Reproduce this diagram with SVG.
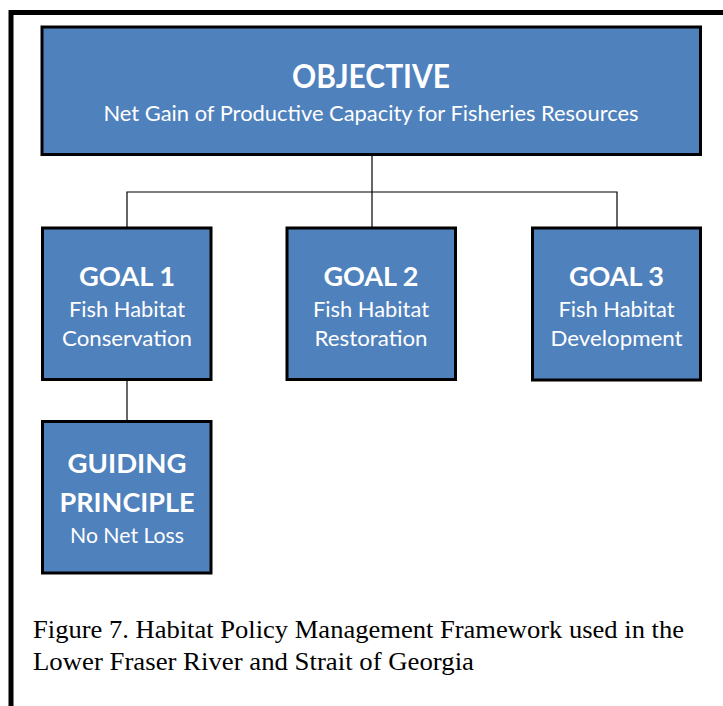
<svg xmlns="http://www.w3.org/2000/svg" width="723" height="706" viewBox="0 0 723 706">
  <style>
    .box { fill: #4F81BD; stroke: #000000; stroke-width: 3; }
    .link { fill: none; stroke: #000000; stroke-width: 1.2; }
    .frame { fill: none; stroke: #000000; stroke-width: 5; }
    .head { font-family: Lato, "Open Sans", sans-serif; font-weight: bold; fill: #FFFFFF; text-anchor: middle; }
    .sub { font-family: Lato, "Open Sans", sans-serif; fill: #FFFFFF; text-anchor: middle; }
    .caption { font-family: "Liberation Serif", "Times New Roman", serif; font-size: 25px; fill: #000000; }
  </style>
  <rect width="723" height="706" fill="#FFFFFF"/>

  <!-- page frame: top and left rules -->
  <path class="frame" d="M11,706 V12.5 H723"/>

  <!-- connectors -->
  <g id="connectors">
    <path class="link" d="M372,156 V192"/>
    <path class="link" d="M127,228 V192 H617 V228"/>
    <path class="link" d="M372,192 V228"/>
    <path class="link" d="M127,380 V421.5"/>
  </g>

  <g id="objective">
    <rect class="box" x="42" y="27" width="658.5" height="127.5"/>
    <text class="head" x="371" y="88" font-size="32" textLength="158" lengthAdjust="spacingAndGlyphs">OBJECTIVE</text>
    <text class="sub" x="371" y="121" font-size="21.5" textLength="535" lengthAdjust="spacingAndGlyphs">Net Gain of Productive Capacity for Fisheries Resources</text>
  </g>

  <g id="goal1">
    <rect class="box" x="42.5" y="228" width="168.5" height="151.5"/>
    <text class="head" x="127" y="286" font-size="27" textLength="96" lengthAdjust="spacingAndGlyphs">GOAL 1</text>
    <text class="sub" x="127" y="317" font-size="21.5" textLength="116" lengthAdjust="spacingAndGlyphs">Fish Habitat</text>
    <text class="sub" x="127" y="346" font-size="21.5" textLength="130" lengthAdjust="spacingAndGlyphs">Conservation</text>
  </g>

  <g id="goal2">
    <rect class="box" x="287" y="228" width="168.5" height="151.5"/>
    <text class="head" x="371" y="286" font-size="27" textLength="95" lengthAdjust="spacingAndGlyphs">GOAL 2</text>
    <text class="sub" x="371" y="317" font-size="21.5" textLength="116" lengthAdjust="spacingAndGlyphs">Fish Habitat</text>
    <text class="sub" x="371" y="346" font-size="21.5" textLength="113" lengthAdjust="spacingAndGlyphs">Restoration</text>
  </g>

  <g id="goal3">
    <rect class="box" x="532.5" y="228" width="168" height="152"/>
    <text class="head" x="616.5" y="286" font-size="27" textLength="95" lengthAdjust="spacingAndGlyphs">GOAL 3</text>
    <text class="sub" x="616.5" y="317" font-size="21.5" textLength="116" lengthAdjust="spacingAndGlyphs">Fish Habitat</text>
    <text class="sub" x="616.5" y="346" font-size="21.5" textLength="132" lengthAdjust="spacingAndGlyphs">Development</text>
  </g>

  <g id="guiding-principle">
    <rect class="box" x="42.5" y="421.5" width="168.5" height="151.5"/>
    <text class="head" x="127" y="473" font-size="27" textLength="119" lengthAdjust="spacingAndGlyphs">GUIDING</text>
    <text class="head" x="127" y="512" font-size="27" textLength="135" lengthAdjust="spacingAndGlyphs">PRINCIPLE</text>
    <text class="sub" x="127" y="543" font-size="21.5" textLength="114" lengthAdjust="spacingAndGlyphs">No Net Loss</text>
  </g>

  <g id="caption">
    <text class="caption" x="33" y="638" textLength="651" lengthAdjust="spacingAndGlyphs">Figure 7. Habitat Policy Management Framework used in the</text>
    <text class="caption" x="33" y="670" textLength="441" lengthAdjust="spacingAndGlyphs">Lower Fraser River and Strait of Georgia</text>
  </g>
</svg>
